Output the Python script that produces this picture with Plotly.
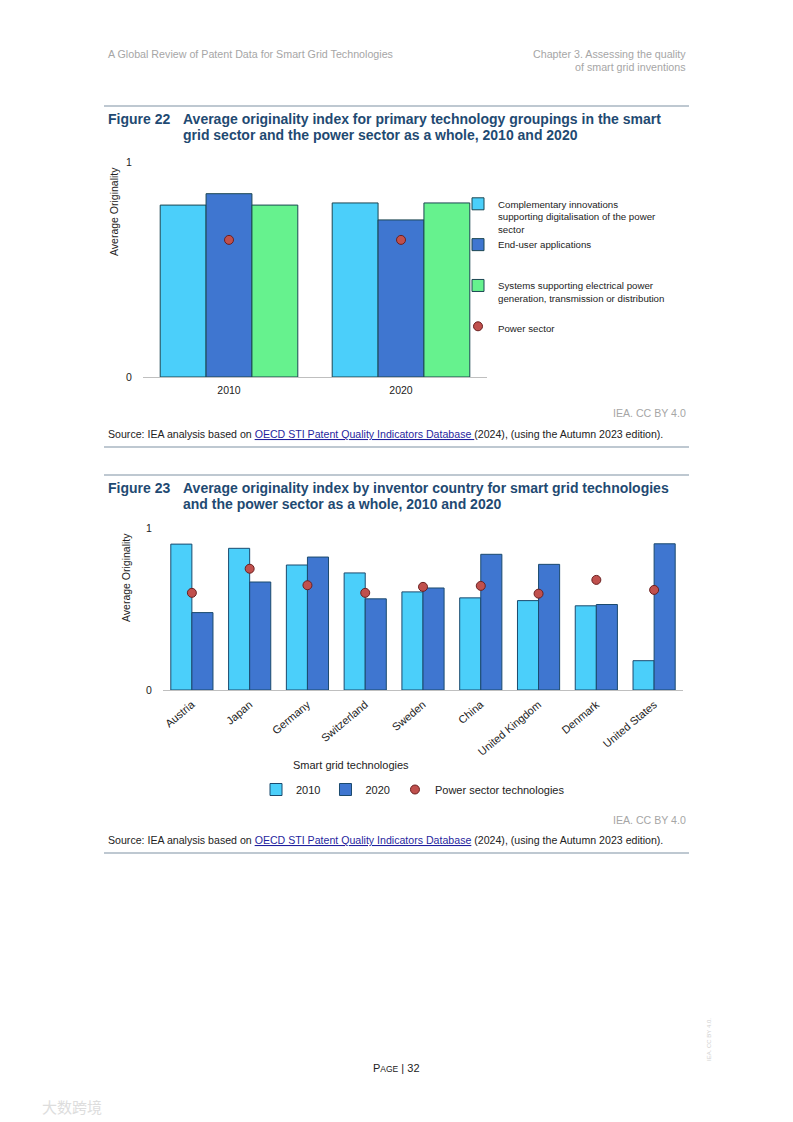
import plotly.graph_objects as go

W, H = 793, 1122

def fx(p):
    return p / W

def fy(p):
    return 1 - p / H

# ---------------- Data: Figure 22 ----------------
groups22 = ["2010", "2020"]
complementary = [0.80, 0.81]
end_user = [0.853, 0.731]
systems = [0.80, 0.81]
power_sector22 = [0.638, 0.638]
names22 = [
    "Complementary innovations<br>supporting digitalisation of the power<br>sector",
    "End-user applications<br> <br> ",
    "Systems supporting electrical power<br>generation, transmission or distribution<br> ",
    "Power sector",
]

# ---------------- Data: Figure 23 ----------------
countries = ["Austria", "Japan", "Germany", "Switzerland", "Sweden", "China",
             "United Kingdom", "Denmark", "United States"]
v2010 = [0.901, 0.875, 0.772, 0.723, 0.606, 0.569, 0.552, 0.520, 0.181]
v2020 = [0.478, 0.667, 0.821, 0.563, 0.630, 0.838, 0.776, 0.528, 0.903]
power23 = [0.600, 0.749, 0.647, 0.600, 0.637, 0.643, 0.595, 0.680, 0.618]
names23 = ["2010", "2020", "Power sector technologies"]

C_CYAN = "#4BCFFA"
C_BLUE = "#3F76D0"
C_GREEN = "#66F28E"
C_DOT = "#C0504D"
FONT = "Liberation Sans, Arial, sans-serif"
TITLE_C = "#1F4A72"
TXT = "#222222"
GREY = "#A6A6A6"

fig = go.Figure()

# Figure 22 bars (grouped manually through offsets)
g22 = 0.8
w22 = g22 / 3
for i, (vals, col, nm) in enumerate(zip([complementary, end_user, systems],
                                        [C_CYAN, C_BLUE, C_GREEN], names22[:3])):
    fig.add_trace(go.Bar(
        x=groups22, y=vals, name=nm, width=w22, offset=-g22 / 2 + i * w22,
        marker=dict(color=col, line=dict(color="#1B4652", width=1)),
        xaxis="x", yaxis="y", legend="legend"))
fig.add_trace(go.Scatter(
    x=groups22, y=power_sector22, name=names22[3], mode="markers",
    marker=dict(color=C_DOT, size=9, line=dict(color="#6B2020", width=1)),
    xaxis="x", yaxis="y", legend="legend"))

# Figure 23 bars
g23 = 0.73
w23 = g23 / 2
for i, (vals, col, nm) in enumerate(zip([v2010, v2020], [C_CYAN, C_BLUE], names23[:2])):
    fig.add_trace(go.Bar(
        x=countries, y=vals, name=nm, width=w23, offset=-g23 / 2 + i * w23,
        marker=dict(color=col, line=dict(color="#1B4A6E", width=1)),
        xaxis="x2", yaxis="y2", legend="legend2"))
fig.add_trace(go.Scatter(
    x=countries, y=power23, name=names23[2], mode="markers",
    marker=dict(color=C_DOT, size=9, line=dict(color="#6B2020", width=1)),
    xaxis="x2", yaxis="y2", legend="legend2"))

axis_common_x = dict(showline=True, linecolor="#BFBFBF", linewidth=1, showgrid=False,
                     ticks="outside", ticklen=3, tickcolor="rgba(0,0,0,0)", fixedrange=True,
                     automargin=False)
axis_common_y = dict(range=[0, 1.0005], tickvals=[0, 1], ticktext=["0", "1"],
                     showgrid=True, gridcolor="#E3E3E3", gridwidth=1, zeroline=False,
                     showline=False, ticks="outside", ticklen=8, tickcolor="rgba(0,0,0,0)",
                     tickfont=dict(family=FONT, size=10.5, color=TXT), fixedrange=True,
                     automargin=False)

fig.update_layout(
    width=W, height=H,
    margin=dict(l=0, r=0, t=0, b=0, pad=0, autoexpand=False),
    paper_bgcolor="white", plot_bgcolor="white",
    barmode="overlay",
    font=dict(family=FONT, color=TXT, size=10),
    xaxis=dict(domain=[fx(143), fx(487)], anchor="y", range=[-0.5, 1.5],
               tickfont=dict(family=FONT, size=10.5, color=TXT), **axis_common_x),
    yaxis=dict(domain=[fy(377), fy(162)], anchor="x", **axis_common_y),
    xaxis2=dict(domain=[fx(163), fx(683)], anchor="y2", range=[-0.5, 8.5], tickangle=-40,
                tickfont=dict(family=FONT, size=11, color=TXT), **axis_common_x),
    yaxis2=dict(domain=[fy(690), fy(528)], anchor="x2", **axis_common_y),
    legend=dict(x=fx(458), y=fy(191), xanchor="left", yanchor="top", valign="top",
                bgcolor="rgba(0,0,0,0)", font=dict(family=FONT, size=9.7, color=TXT),
                tracegroupgap=0, itemwidth=30),
    legend2=dict(orientation="h", x=fx(413), y=fy(775), xanchor="center", yanchor="top",
                 bgcolor="rgba(0,0,0,0)", font=dict(family=FONT, size=11, color=TXT),
                 itemwidth=30),
    showlegend=True,
)

ann = []

def text(x, y, s, size=10, color=TXT, xanchor="left", angle=0, family=FONT):
    ann.append(dict(x=fx(x), y=fy(y), xref="paper", yref="paper", text=s, showarrow=False,
                    xanchor=xanchor, yanchor="middle", textangle=angle,
                    font=dict(family=family, size=size, color=color)))

# header
text(106, 54, "A Global Review of Patent Data for Smart Grid Technologies", 10.7, GREY)
text(688, 54, "Chapter 3. Assessing the quality", 10.7, GREY, xanchor="right")
text(688, 67, "of smart grid inventions", 10.7, GREY, xanchor="right")

# figure 22 titles
text(106, 119, "<b>Figure 22</b>", 14, TITLE_C)
text(181, 119, "<b>Average originality index for primary technology groupings in the smart</b>", 14, TITLE_C)
text(181, 135, "<b>grid sector and the power sector as a whole, 2010 and 2020</b>", 14, TITLE_C)
text(114, 212, "Average Originality", 10.5, TXT, xanchor="center", angle=-90)
text(688, 413, "IEA. CC BY 4.0", 10.6, GREY, xanchor="right")
link = ("<span style='color:#1F1F9E;text-decoration:underline'>"
        "OECD STI Patent Quality Indicators Database </span>")
text(106, 434, "Source: IEA analysis based on " + link +
     "(2024), (using the Autumn 2023 edition).", 10.6, TXT)

# figure 23 titles
text(106, 488, "<b>Figure 23</b>", 14, TITLE_C)
text(181, 488, "<b>Average originality index by inventor country for smart grid technologies</b>", 14, TITLE_C)
text(181, 504, "<b>and the power sector as a whole, 2010 and 2020</b>", 14, TITLE_C)
text(126, 578, "Average Originality", 10.5, TXT, xanchor="center", angle=-90)
text(351, 765, "Smart grid technologies", 11, TXT, xanchor="center")
text(688, 820, "IEA. CC BY 4.0", 10.6, GREY, xanchor="right")
link2 = ("<span style='color:#1F1F9E;text-decoration:underline'>"
         "OECD STI Patent Quality Indicators Database</span>")
text(106, 840, "Source: IEA analysis based on " + link2 +
     " (2024), (using the Autumn 2023 edition).", 10.6, TXT)

# footer
text(396, 1068, "P<span style='font-size:8.5px'>AGE</span> | 32", 11, TXT, xanchor="center")
text(709, 1040, "IEA. CC BY 4.0.", 6, "#D0D0D0", xanchor="center", angle=-90)
text(72, 1106, "大数跨境", 15, "#DDDDDD", xanchor="center", family="Noto Sans CJK SC")

fig.update_layout(annotations=ann)

line_c = "#A9B6C2"
shapes = []
for yy in [106, 447, 475, 853]:
    shapes.append(dict(type="line", xref="paper", yref="paper", x0=fx(104), x1=fx(689),
                       y0=fy(yy), y1=fy(yy), line=dict(color=line_c, width=1.5)))
fig.update_layout(shapes=shapes)

fig.write_html("out.html", config={"displayModeBar": False},
               post_script="document.body.style.margin='0px';")
